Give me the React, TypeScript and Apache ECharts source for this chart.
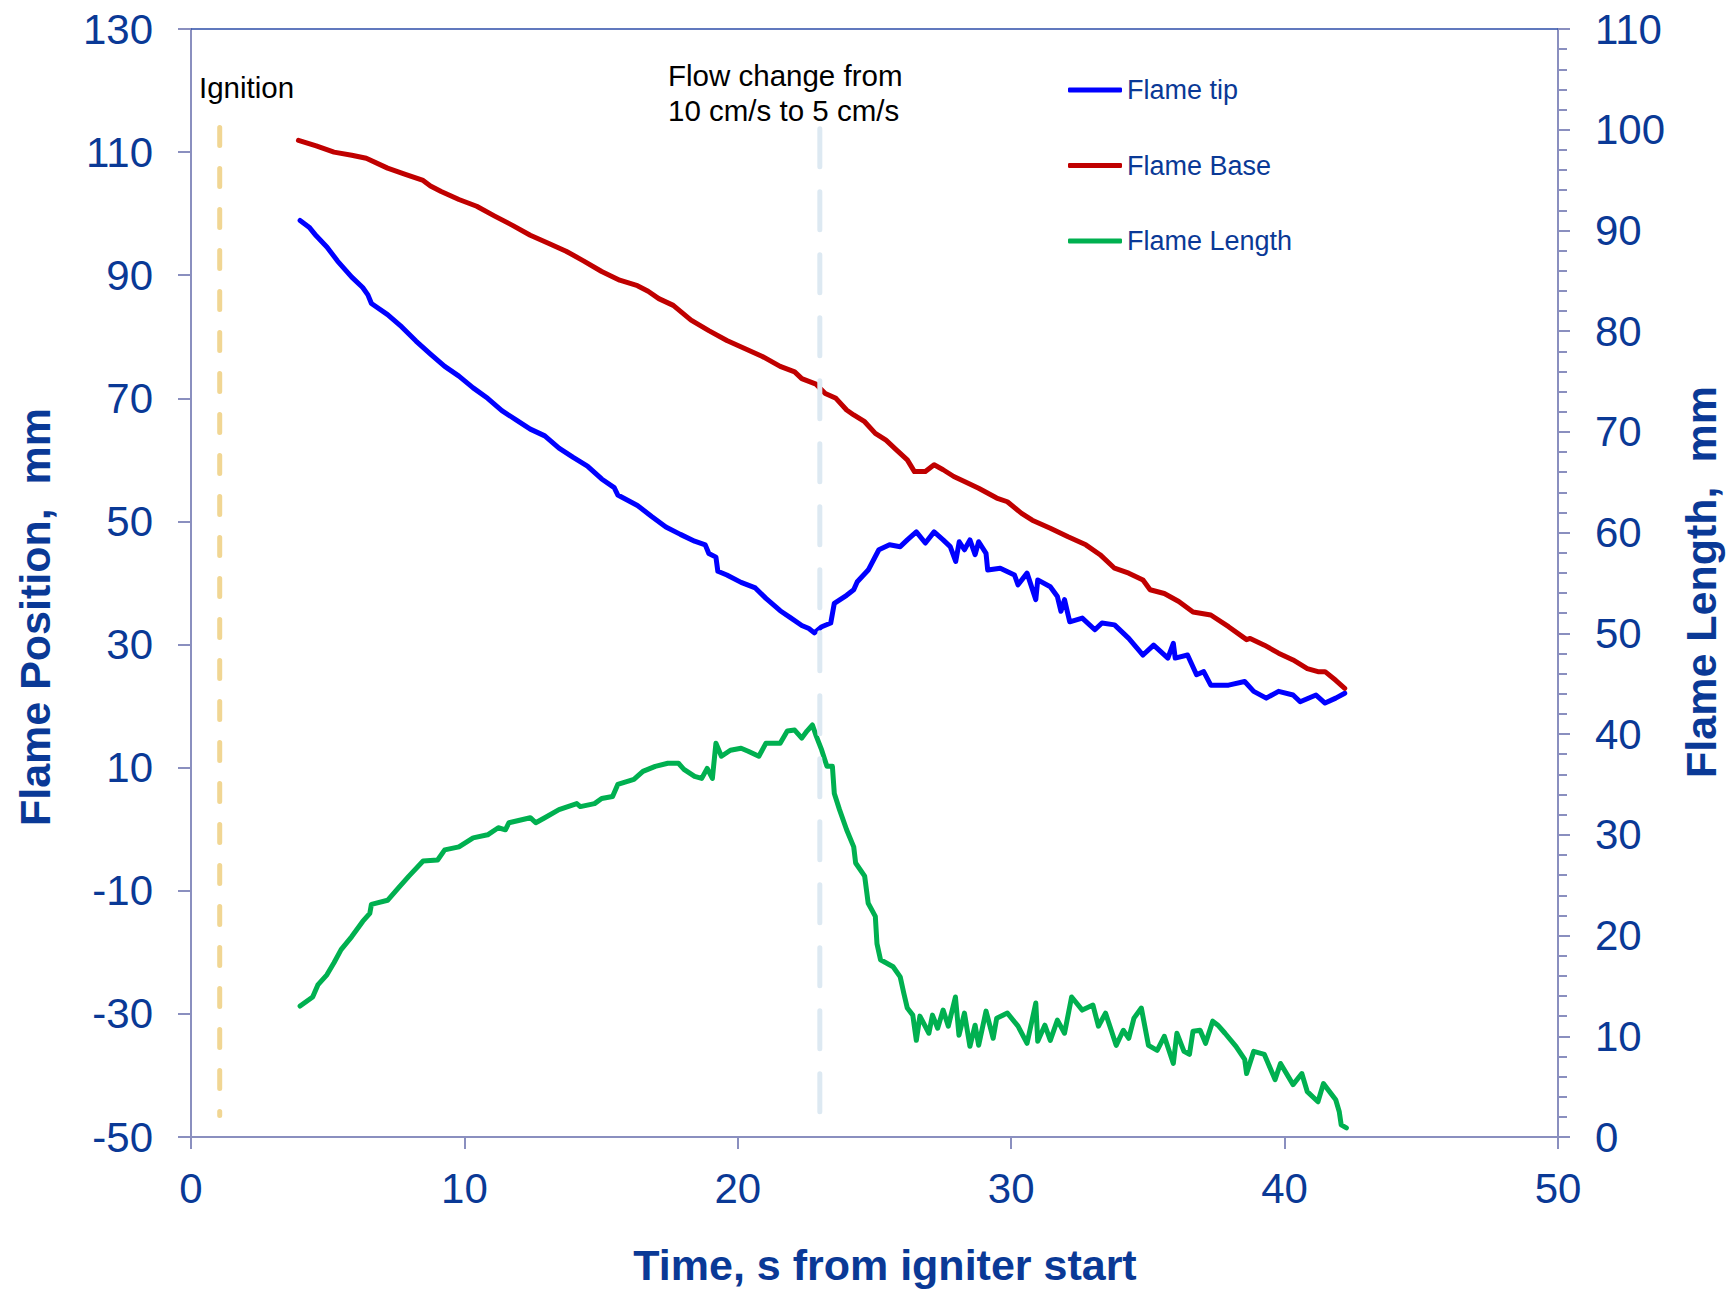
import React, { useEffect, useRef } from "react";
import * as echarts from "echarts";

// ---- data (time s, value) ----
const tipData: [number, number][] = [
  [3.99,98.9],[4.32,97.8],[4.58,96.4],[4.97,94.6],[5.36,92.3],[5.88,89.7],[6.28,88.0],[6.47,86.8],[6.6,85.4],[7.19,83.6],[7.71,81.6],[8.23,79.3],[8.76,77.2],[9.28,75.2],[9.8,73.6],[10.32,71.7],[10.85,70.0],[11.37,68.0],[11.89,66.5],[12.41,65.0],[12.94,63.9],[13.46,61.9],[13.98,60.4],[14.5,59.0],[15.02,56.9],[15.48,55.5],[15.61,54.3],[16.33,52.6],[16.85,50.8],[17.37,49.1],[17.9,47.9],[18.42,46.8],[18.81,46.2],[18.94,44.8],[19.2,44.2],[19.27,41.9],[19.6,41.3],[20.12,40.1],[20.64,39.2],[21.03,37.5],[21.55,35.5],[21.95,34.3],[22.34,33.1],[22.6,32.6],[22.8,31.9],[23.07,32.9],[23.4,33.5],[23.53,36.7],[23.98,38.0],[24.24,38.9],[24.37,40.2],[24.77,42.1],[25.03,44.3],[25.16,45.4],[25.55,46.2],[25.94,45.9],[26.2,47.0],[26.53,48.3],[26.86,46.5],[27.18,48.3],[27.51,47.0],[27.77,45.9],[27.97,43.5],[28.1,46.7],[28.29,45.4],[28.49,47.0],[28.68,44.6],[28.81,46.7],[29.08,44.8],[29.14,42.1],[29.6,42.4],[30.12,41.3],[30.25,39.7],[30.58,41.6],[30.9,37.3],[30.97,40.5],[31.43,39.4],[31.69,37.8],[31.82,35.4],[31.95,37.3],[32.14,33.7],[32.6,34.3],[33.06,32.4],[33.32,33.5],[33.78,33.2],[34.3,31.0],[34.82,28.3],[35.21,29.9],[35.73,27.8],[35.93,30.2],[36.0,27.8],[36.45,28.3],[36.78,25.1],[37.04,25.6],[37.3,23.4],[37.95,23.4],[38.54,24.0],[38.87,22.4],[39.33,21.3],[39.78,22.4],[40.31,21.8],[40.57,20.7],[41.15,21.8],[41.48,20.5],[41.87,21.3],[42.2,22.1]
];

const baseData: [number, number][] = [
  [3.93,111.9],[4.58,111.0],[5.23,110.0],[5.88,109.5],[6.41,109.0],[7.19,107.4],[7.84,106.4],[8.49,105.4],[8.76,104.5],[9.15,103.6],[9.8,102.3],[10.45,101.2],[11.11,99.6],[11.76,98.1],[12.41,96.5],[13.07,95.2],[13.72,93.9],[14.37,92.3],[15.02,90.6],[15.68,89.2],[16.33,88.3],[16.72,87.4],[17.11,86.2],[17.64,85.1],[18.29,82.7],[18.94,81.0],[19.6,79.4],[20.25,78.1],[20.9,76.8],[21.55,75.2],[22.08,74.3],[22.34,73.2],[22.86,72.3],[23.2,70.8],[23.59,70.0],[23.98,68.1],[24.24,67.3],[24.64,66.2],[25.03,64.3],[25.42,63.2],[25.81,61.6],[26.2,60.0],[26.46,58.1],[26.86,58.1],[27.18,59.2],[27.51,58.4],[27.9,57.3],[28.29,56.5],[28.81,55.4],[29.47,53.8],[29.86,53.2],[30.38,51.3],[30.77,50.2],[31.43,48.9],[32.08,47.5],[32.73,46.2],[33.25,44.6],[33.78,42.4],[34.3,41.6],[34.82,40.5],[35.08,38.9],[35.6,38.3],[36.13,37.0],[36.65,35.3],[37.3,34.8],[37.95,32.9],[38.61,30.8],[38.74,31.0],[39.26,29.9],[39.78,28.6],[40.31,27.5],[40.83,26.1],[41.22,25.6],[41.48,25.6],[41.87,24.2],[42.2,22.9]
];

const lengthData: [number, number][] = [
  [3.99,13.0],[4.45,13.9],[4.64,15.1],[4.97,16.1],[5.23,17.3],[5.49,18.6],[5.88,19.9],[6.28,21.4],[6.54,22.2],[6.6,23.1],[7.19,23.5],[7.58,24.7],[7.97,25.9],[8.49,27.4],[9.02,27.5],[9.28,28.5],[9.8,28.8],[10.32,29.7],[10.85,30.0],[11.24,30.7],[11.5,30.5],[11.63,31.2],[12.41,31.7],[12.61,31.2],[12.94,31.7],[13.46,32.5],[14.11,33.1],[14.24,32.8],[14.76,33.1],[15.02,33.6],[15.42,33.8],[15.61,35.0],[16.2,35.5],[16.53,36.3],[16.98,36.8],[17.44,37.1],[17.83,37.1],[18.03,36.5],[18.42,35.8],[18.68,35.6],[18.88,36.6],[19.07,35.6],[19.2,39.1],[19.4,37.8],[19.73,38.4],[20.12,38.6],[20.38,38.3],[20.77,37.8],[21.03,39.1],[21.55,39.1],[21.81,40.3],[22.08,40.4],[22.34,39.6],[22.53,40.3],[22.73,40.9],[22.87,39.8],[23.07,38.4],[23.26,36.8],[23.46,36.8],[23.53,34.1],[23.72,32.5],[23.98,30.5],[24.24,28.8],[24.31,27.2],[24.64,25.9],[24.77,23.2],[25.03,21.9],[25.09,19.2],[25.22,17.6],[25.68,16.9],[25.94,15.9],[26.07,14.3],[26.2,12.8],[26.4,12.1],[26.53,9.6],[26.66,12.0],[26.99,10.3],[27.12,12.1],[27.31,10.8],[27.51,12.6],[27.7,11.0],[27.96,13.9],[28.09,10.1],[28.29,12.3],[28.49,9.0],[28.68,11.1],[28.81,9.1],[29.08,12.5],[29.34,9.8],[29.47,11.8],[29.86,12.3],[30.25,11.0],[30.58,9.3],[30.9,13.3],[30.97,9.5],[31.23,11.1],[31.43,9.6],[31.69,11.6],[31.95,10.3],[32.21,13.9],[32.6,12.6],[32.99,13.1],[33.19,11.0],[33.45,12.3],[33.84,9.1],[34.1,10.6],[34.3,9.8],[34.49,11.8],[34.76,12.8],[35.02,9.1],[35.34,8.6],[35.6,10.0],[35.93,7.3],[36.06,10.3],[36.32,8.5],[36.52,8.2],[36.65,10.5],[36.91,10.6],[37.11,9.3],[37.37,11.5],[37.56,11.1],[37.82,10.3],[38.22,9.0],[38.54,7.7],[38.61,6.3],[38.87,8.5],[39.26,8.2],[39.65,5.7],[39.85,7.3],[40.31,5.2],[40.63,6.3],[40.83,4.5],[41.22,3.5],[41.42,5.3],[41.87,3.7],[42.0,2.5],[42.07,1.2],[42.26,0.9]
];

// event marker lines (time, from value, to value on left axis)
const ignitionLine: [number, number][] = [[1.05, 114], [1.05, -46.5]];
const flowLine: [number, number][] = [[23.0, 113.8], [23.0, -47.2]];

const leftTicks = [-50, -30, -10, 10, 30, 50, 70, 90, 110, 130];
const seriesNames = ["Flame tip", "Flame Base", "Flame Length"];

const FONT = '"Liberation Sans", Arial, Helvetica, sans-serif';
const TXT = "#0a3996";
const AXIS = "#8a8fbf";

export default function App() {
  const ref = useRef<HTMLDivElement>(null);

  useEffect(() => {
    if (!ref.current) return;
    const chart = echarts.init(ref.current, null, { renderer: "svg" });
    const axisLine = { show: true, onZero: false, lineStyle: { color: AXIS, width: 2 } };
    const labelBase = { color: TXT, fontSize: 42, fontFamily: FONT };
    const option: any = {
      animation: false,
      backgroundColor: "#ffffff",
      grid: { left: 191, top: 29, right: 169, bottom: 152, containLabel: false },
      legend: {
        data: seriesNames,
        orient: "vertical",
        left: 1063,
        top: 70,
        icon: "roundRect",
        itemWidth: 54,
        itemHeight: 5,
        itemGap: 45.5,
        textStyle: { color: TXT, fontSize: 27, fontFamily: FONT, lineHeight: 30 },
        selectedMode: false,
      },
      xAxis: [
        {
          type: "value",
          min: 0,
          max: 50,
          interval: 10,
          position: "bottom",
          axisLine,
          axisTick: { show: true, length: 12, lineStyle: { color: AXIS, width: 2 } },
          axisLabel: { ...labelBase, margin: 30 },
          splitLine: { show: false },
        },
        {
          type: "value",
          min: 0,
          max: 50,
          position: "top",
          axisLine: { show: true, onZero: false, lineStyle: { color: "#2c4da8", width: 1.5 } },
          axisTick: { show: false },
          axisLabel: { show: false },
          splitLine: { show: false },
        },
      ],
      yAxis: [
        {
          type: "value",
          min: -50,
          max: 130,
          position: "left",
          axisLine,
          axisTick: { show: true, length: 13, lineStyle: { color: AXIS, width: 2 }, customValues: leftTicks },
          axisLabel: { ...labelBase, margin: 38, customValues: leftTicks },
          splitLine: { show: false },
        },
        {
          type: "value",
          min: 0,
          max: 110,
          interval: 10,
          position: "right",
          axisLine,
          axisTick: { show: true, length: 12, lineStyle: { color: AXIS, width: 2 } },
          minorTick: { show: true, splitNumber: 5, length: 9, lineStyle: { color: AXIS, width: 2 } },
          axisLabel: { ...labelBase, margin: 37 },
          splitLine: { show: false },
        },
      ],
      series: [
        {
          name: seriesNames[0],
          type: "line",
          yAxisIndex: 0,
          data: tipData,
          symbol: "none",
          showSymbol: false,
          itemStyle: { color: "#0000ff" },
          lineStyle: { color: "#0000ff", width: 5, cap: "round", join: "round" },
          z: 3,
        },
        {
          name: seriesNames[1],
          type: "line",
          yAxisIndex: 0,
          data: baseData,
          symbol: "none",
          showSymbol: false,
          itemStyle: { color: "#c00000" },
          lineStyle: { color: "#c00000", width: 5, cap: "round", join: "round" },
          z: 3,
        },
        {
          name: seriesNames[2],
          type: "line",
          yAxisIndex: 1,
          data: lengthData,
          symbol: "none",
          showSymbol: false,
          itemStyle: { color: "#00b050" },
          lineStyle: { color: "#00b050", width: 5, cap: "round", join: "round" },
          z: 3,
        },
        {
          name: "ignition",
          type: "line",
          yAxisIndex: 0,
          data: ignitionLine,
          symbol: "none",
          silent: true,
          lineStyle: { color: "#f1d693", width: 5, type: [18, 23], cap: "round" },
          z: 5,
        },
        {
          name: "flow",
          type: "line",
          yAxisIndex: 0,
          data: flowLine,
          symbol: "none",
          silent: true,
          lineStyle: { color: "#dde9f2", width: 5, type: [38, 25], cap: "round" },
          z: 5,
        },
      ],
      graphic: [
        {
          type: "text",
          x: 199,
          y: 87,
          style: { text: "Ignition", fill: "#000000", fontSize: 29.5, fontFamily: FONT, textAlign: "left", textVerticalAlign: "middle" },
        },
        {
          type: "text",
          x: 668,
          y: 75,
          style: { text: "Flow change from", fill: "#000000", fontSize: 29.5, fontFamily: FONT, textAlign: "left", textVerticalAlign: "middle" },
        },
        {
          type: "text",
          x: 668,
          y: 110,
          style: { text: "10 cm/s to 5 cm/s", fill: "#000000", fontSize: 29.5, fontFamily: FONT, textAlign: "left", textVerticalAlign: "middle" },
        },
        {
          type: "text",
          x: 885,
          y: 1265,
          style: { text: "Time, s from igniter start", fill: TXT, fontSize: 43, fontWeight: "bold", fontFamily: FONT, textAlign: "center", textVerticalAlign: "middle" },
        },
        {
          type: "text",
          x: 35,
          y: 617,
          rotation: Math.PI / 2,
          style: { text: "Flame Position,  mm", fill: TXT, fontSize: 43, fontWeight: "bold", fontFamily: FONT, textAlign: "center", textVerticalAlign: "middle" },
        },
        {
          type: "text",
          x: 1701,
          y: 582,
          rotation: Math.PI / 2,
          style: { text: "Flame Length,  mm", fill: TXT, fontSize: 43, fontWeight: "bold", fontFamily: FONT, textAlign: "center", textVerticalAlign: "middle" },
        },
      ],
    };
    chart.setOption(option);
    return () => chart.dispose();
  }, []);

  return (
    <div
      ref={ref}
      style={{ position: "fixed", left: 0, top: 0, width: 1727, height: 1289, background: "#ffffff" }}
    />
  );
}
